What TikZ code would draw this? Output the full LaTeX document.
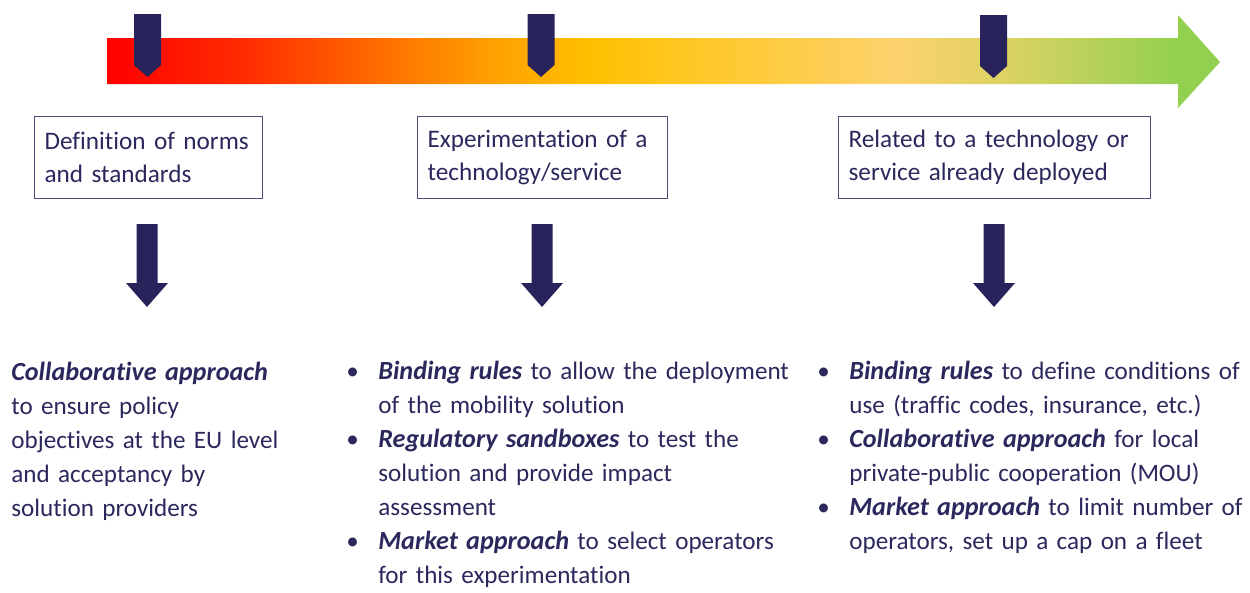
\documentclass[tikz,border=0pt]{standalone}
\usepackage{fontspec}
\setmainfont[Ligatures={NoCommon}]{Carlito}
\usetikzlibrary{calc}

\definecolor{navy}{RGB}{41,35,92}
\definecolor{ink}{RGB}{42,40,92}
\definecolor{boxline}{RGB}{78,74,118}

% red -> orange -> gold -> pale gold -> green along the timeline
\pgfdeclarehorizontalshading{timeline}{100bp}{%
  rgb(0bp)=(1,0,0);
  rgb(25bp)=(1,0,0);
  rgb(31.4bp)=(1,0.18,0);
  rgb(37.3bp)=(1,0.43,0);
  rgb(41.8bp)=(1,0.61,0);
  rgb(46.7bp)=(1,0.753,0);
  rgb(51.6bp)=(1,0.784,0.157);
  rgb(60.6bp)=(0.988,0.824,0.431);
  rgb(65.1bp)=(0.871,0.824,0.392);
  rgb(73.2bp)=(0.573,0.816,0.314);
  rgb(75bp)=(0.573,0.816,0.314);
  rgb(100bp)=(0.573,0.816,0.314)}

\newcommand{\bi}[1]{{\fontsize{14.9}{19.4}\selectfont\bfseries\itshape #1}}
% one bullet item with hanging indent; lines broken by \newline
\newcommand{\itm}[1]{\hangindent=0.64cm\hangafter=1\noindent\makebox[0.64cm][l]{•}#1\par}
% marker pin on the timeline
\newcommand{\pin}[2]{\fill[navy] (#1-13.5,#2) -- (#1+13.5,#2) -- (#1+13.5,#2+51) -- (#1,#2+63) -- (#1-13.5,#2+51) -- cycle;}
% block arrow pointing down
\newcommand{\dnarrow}[1]{\fill[navy] (#1-10.5,224) -- (#1+10.5,224) -- (#1+10.5,283) -- (#1+21,283) -- (#1,307) -- (#1-21,283) -- (#1-10.5,283) -- cycle;}
\newcommand{\nohyph}{\hyphenpenalty=10000\relax}

\tikzset{
  catbox/.style={draw=boxline, line width=0.7pt, anchor=north west, align=left,
    inner xsep=0.2cm, inner ysep=0pt, minimum height=1.64cm, text=ink,
    font=\fontsize{14.35}{18.7}\selectfont},
  col/.style={anchor=base west, inner sep=0pt, align=left, text=ink,
    font=\fontsize{14.3}{19.4}\selectfont\nohyph}
}

\begin{document}
\begin{tikzpicture}[x=0.02cm, y=-0.02cm]
\useasboundingbox (0,0) rectangle (1250,592);

% timeline arrow
\shade[shading=timeline] (107,38) -- (1178,38) -- (1178,15) -- (1220,62)
  -- (1178,108) -- (1178,84) -- (107,84) -- cycle;

\pin{147.5}{14}
\pin{541}{14}
\pin{993.5}{15}

% stage boxes
\node[catbox, text width=4.16cm] (b1) at (34,116) {Definition of norms\\and standards};
\node[catbox, text width=4.6cm] (b2) at (417,116) {Experimentation of a\\technology/service};
\node[catbox, text width=5.84cm] (b3) at (838,116) {Related to a technology or\\service already deployed};

\dnarrow{147}
\dnarrow{542}
\dnarrow{994}

% regulatory approaches
\node[col, text width=6.6cm] (t1) at (11,380) {\bi{Collaborative approach}\\to ensure policy\\objectives at the EU level\\and acceptancy by\\solution providers};

\node[col, text width=10cm] (t2) at (346,379) {%
  \itm{\bi{Binding rules} to allow the deployment\newline of the mobility solution}%
  \itm{\bi{Regulatory sandboxes} to test the\newline solution and provide impact\newline assessment}%
  \itm{\bi{Market approach} to select operators\newline for this experimentation}};

\node[col, text width=8.6cm] (t3) at (817,379) {%
  \itm{\bi{Binding rules} to define conditions of\newline use (traffic codes, insurance, etc.)}%
  \itm{\bi{Collaborative approach} for local\newline private-public cooperation (MOU)}%
  \itm{\bi{Market approach} to limit number of\newline operators, set up a cap on a fleet}};
\end{tikzpicture}
\end{document}
